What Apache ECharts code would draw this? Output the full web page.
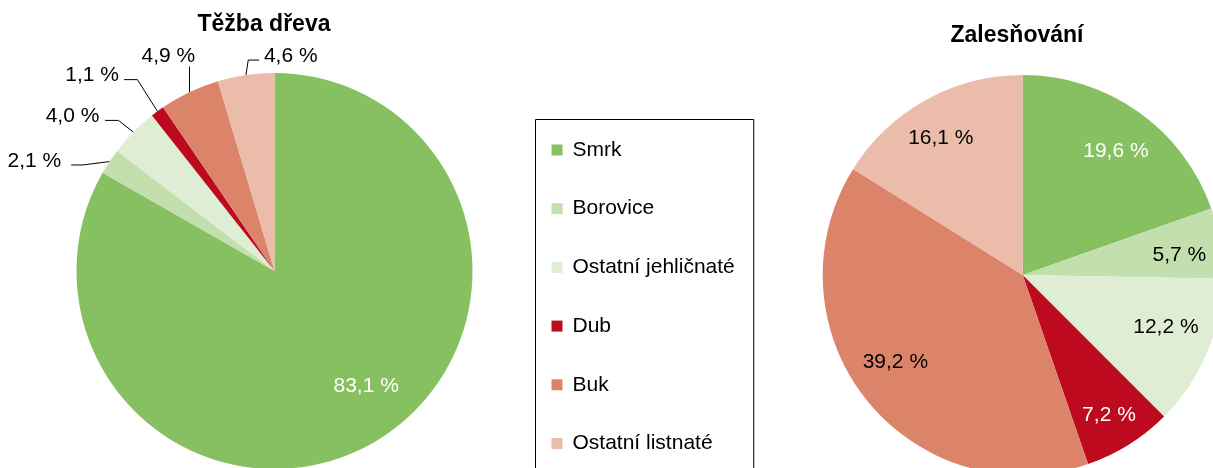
<!DOCTYPE html>
<html>
<head>
<meta charset="utf-8">
<script src="https://cdn.jsdelivr.net/npm/echarts@6/dist/echarts.min.js"></script>
<style>html,body{margin:0;padding:0;background:#fff}#c{width:1213px;height:468px}</style>
</head>
<body>
<div id="c"></div>
<script>
// ---- data ----
const categories = ['Smrk', 'Borovice', 'Ostatní jehličnaté', 'Dub', 'Buk', 'Ostatní listnaté'];
const tezbaValues = [83.1, 2.1, 4.0, 1.1, 4.9, 4.6];
const zalesnovaniValues = [19.6, 5.7, 12.2, 7.2, 39.2, 16.1];
const chartTitles = ['Těžba dřeva', 'Zalesňování'];

// ---- style / layout ----
const colors = ['#87C061', '#C4DFAE', '#E0EDD5', '#BE0A1E', '#DC8469', '#EBBCAA'];
const FONT = 'Liberation Sans, Arial, sans-serif';
const seriesValues = [tezbaValues, zalesnovaniValues];
const pieGeo = [
  { center: [274.5, 271], radius: 198 },
  { center: [1022.7, 275], radius: 200 }
];
// inside label placement (radial fraction, angular nudge in degrees, colour)
const insideLabel = [
  { 0: { frac: 0.74, turn: -8.6, color: '#ffffff' } },
  {
    0: { frac: 0.78, turn: 1.4, color: '#ffffff' },
    1: { frac: 0.79, turn: 1.6, color: '#000000' },
    2: { frac: 0.76, turn: -3.5, color: '#000000' },
    3: { frac: 0.82, turn: 0.3, color: '#ffffff' },
    4: { frac: 0.77, turn: 4.3, color: '#000000' },
    5: { frac: 0.80, turn: -1.8, color: '#000000' }
  }
];
// leader lines for outside labels of the first pie
const leader = {
  1: { bend: [-26.7, 3.4], run: -11.6, text: [-10, -3.8], align: 'right' },
  2: { bend: [-15, -11.7], run: -13.3, text: [-5.7, -4.5], align: 'right' },
  3: { bend: [-20, -31.7], run: -13.4, text: [-5, -4.3], align: 'right' },
  4: { bend: [0, -25.7], run: 0, text: [5.7, -9.8], align: 'right' },
  5: { bend: [2.3, -15], run: 11, text: [4.7, -4.2], align: 'left' }
};

function fmt(v) { return v.toFixed(1).replace('.', ',') + ' %'; }
function midAngle(vals, i) {
  const total = vals.reduce((a, b) => a + b, 0);
  let cum = 0;
  for (let k = 0; k < i; k++) cum += vals[k];
  return (cum + vals[i] / 2) / total * 360;
}

function buildData(si) {
  return categories.map((name, i) => {
    const ins = insideLabel[si][i];
    return {
      name: name,
      value: seriesValues[si][i],
      itemStyle: { color: colors[i] },
      label: ins ? { position: 'inside', color: ins.color } : { position: 'outside', color: '#000' },
      labelLine: { show: !ins }
    };
  });
}

function layoutFn(p) {
  const si = p.seriesIndex, i = p.dataIndex;
  const geo = pieGeo[si];
  const ins = insideLabel[si][i];
  if (ins) {
    const a = (midAngle(seriesValues[si], i) + ins.turn) * Math.PI / 180;
    const rr = geo.radius * ins.frac;
    return {
      x: geo.center[0] + rr * Math.sin(a),
      y: geo.center[1] - rr * Math.cos(a) + 1,
      align: 'center', verticalAlign: 'middle'
    };
  }
  const lead = leader[i];
  const p1 = p.labelLinePoints[0];
  const p2 = [p1[0] + lead.bend[0], p1[1] + lead.bend[1]];
  const p3 = [p2[0] + lead.run, p2[1]];
  return {
    x: p3[0] + lead.text[0],
    y: p3[1] + lead.text[1],
    align: lead.align, verticalAlign: 'middle',
    labelLinePoints: [p1, p2, p3]
  };
}

function makeSeries(si) {
  return {
    type: 'pie',
    name: chartTitles[si],
    center: pieGeo[si].center,
    radius: pieGeo[si].radius,
    startAngle: 90,
    clockwise: true,
    avoidLabelOverlap: false,
    silent: true,
    itemStyle: { borderWidth: 0 },
    label: {
      show: true,
      formatter: p => fmt(p.value),
      fontFamily: FONT,
      fontSize: 21
    },
    labelLine: { show: true, length: 10, length2: 10, lineStyle: { color: '#000', width: 1 } },
    labelLayout: layoutFn,
    data: buildData(si)
  };
}

const chart = echarts.init(document.getElementById('c'), null, { renderer: 'canvas' });
chart.setOption({
  animation: false,
  backgroundColor: '#ffffff',
  title: [
    { text: chartTitles[0], left: 264, top: 13.5, textAlign: 'center', padding: 0,
      textStyle: { fontFamily: FONT, fontSize: 23, fontWeight: 'bold', color: '#000' } },
    { text: chartTitles[1], left: 1017, top: 24, textAlign: 'center', padding: 0,
      textStyle: { fontFamily: FONT, fontSize: 23, fontWeight: 'bold', color: '#000' } }
  ],
  legend: {
    orient: 'vertical',
    left: 535.5,
    top: 119.5,
    height: 360,
    icon: 'rect',
    itemWidth: 11,
    itemHeight: 11,
    itemGap: 37.7,
    padding: [20, 19, 20, 16],
    borderColor: '#000',
    borderWidth: 1,
    selectedMode: false,
    textStyle: { fontFamily: FONT, fontSize: 21, color: '#000', padding: [0, 0, 0, 5] },
    data: categories
  },
  series: [makeSeries(0), makeSeries(1)]
});
</script>
</body>
</html>
